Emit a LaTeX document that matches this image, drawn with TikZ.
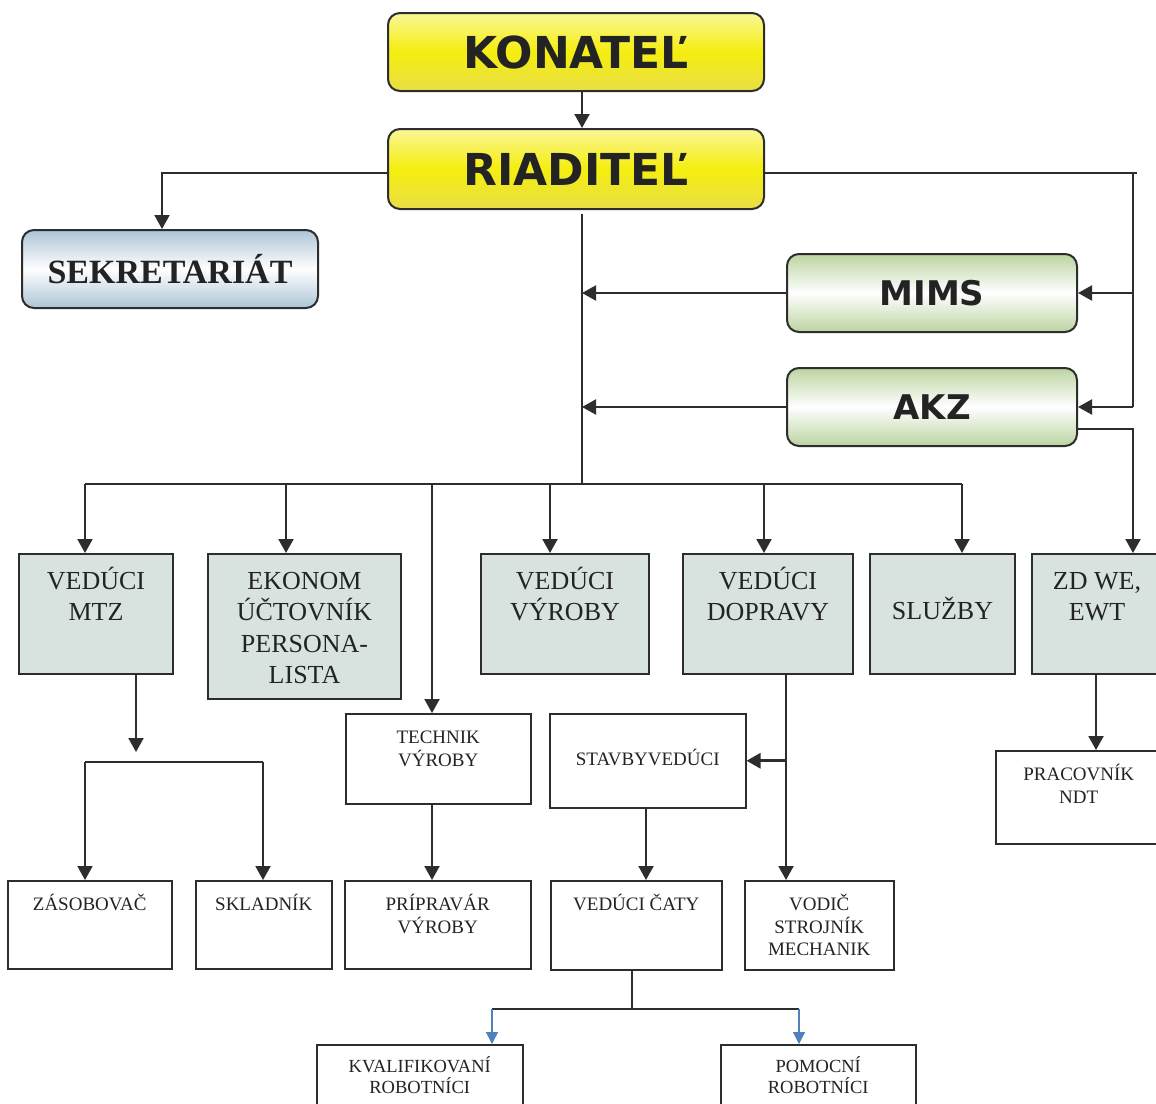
\documentclass[tikz,border=0pt]{standalone}
\usepackage{fontspec}
\setmainfont{Liberation Serif}
\newfontfamily\vfont{DejaVu Sans}
\usetikzlibrary{arrows.meta}
\definecolor{lc}{RGB}{45,45,45}
\definecolor{tc}{RGB}{35,35,35}
\definecolor{gfill}{RGB}{216,227,224}
\definecolor{ytop}{RGB}{250,246,150}
\definecolor{ymid}{RGB}{245,238,15}
\definecolor{ybot}{RGB}{232,222,70}
\definecolor{btop}{RGB}{172,196,214}
\definecolor{gtop}{RGB}{188,212,160}
\definecolor{arrblue}{RGB}{79,129,189}
\newcommand\bxt[4]{\parbox[t][#2][t]{#1}{\centering\rule{0pt}{#3}#4\par}}
\tikzset{
  ln/.style={draw=lc, line width=2pt},
  arr/.style={ln, -{Triangle[length=14pt,width=15pt]}},
  dblarr/.style={draw=lc, line width=3pt, -{Triangle[length=14pt,width=15pt]}},
  barr/.style={draw=arrblue, line width=1.3pt, -{Triangle[length=12pt,width=12pt]}},
  topbox/.style={draw=lc, line width=2pt, rounded corners=12pt, minimum width=376pt,
    top color=ytop, bottom color=ybot, middle color=ymid, text=tc,
    font=\vfont\bfseries\fontsize{44}{48}\selectfont},
  sekbox/.style={draw=lc, line width=2pt, rounded corners=12pt, minimum width=296pt, minimum height=78pt,
    top color=btop, bottom color=btop, middle color=white, text=tc,
    font=\bfseries\fontsize{34}{40}\selectfont},
  grbox/.style={draw=lc, line width=2pt, rounded corners=12pt, minimum width=290pt, minimum height=78pt,
    top color=gtop, bottom color=gtop, middle color=white, text=tc,
    font=\vfont\bfseries\fontsize{34}{38}\selectfont},
  gbox/.style={draw=lc, line width=2pt, fill=gfill, inner sep=0pt, anchor=north west,
    text=tc, font=\fontsize{26}{31.5}\selectfont},
  wbox/.style={draw=lc, line width=1.5pt, fill=white, inner sep=0pt, anchor=north west,
    text=tc, font=\fontsize{19}{22.5}\selectfont},
  wboxs/.style={wbox, font=\fontsize{18.5}{21}\selectfont},
}
\begin{document}
\begin{tikzpicture}[x=1pt,y=-1pt]
\fill[white] (0,0) rectangle (1156,1103);
\useasboundingbox (0,0) rectangle (1156,1103);

% top boxes
\node[topbox, minimum height=78pt] (kon) at (576,52) {KONATEĽ};
\node[topbox, minimum height=80pt] (rid) at (576,169) {RIADITEĽ};
\node[sekbox] (sek) at (170,269) {SEKRETARIÁT};
\node[grbox] (mims) at (932,293) {MIMS};
\node[grbox] (akz) at (932,407) {AKZ};

% second row
\node[gbox] (mtz) at (18,553) {\bxt{154pt}{120pt}{35pt}{VEDÚCI\\MTZ}};
\node[gbox] (ekon) at (207,553) {\bxt{193pt}{145pt}{35pt}{EKONOM\\ÚČTOVNÍK\\PERSONA-\\LISTA}};
\node[gbox] (vyr) at (480,553) {\bxt{168pt}{120pt}{35pt}{VEDÚCI\\VÝROBY}};
\node[gbox] (dop) at (682,553) {\bxt{170pt}{120pt}{35pt}{VEDÚCI\\DOPRAVY}};
\node[gbox] (sluz) at (869,553) {\bxt{145pt}{120pt}{65pt}{SLUŽBY}};
\node[gbox] (zd) at (1031,553) {\bxt{130pt}{120pt}{35pt}{ZD WE,\\EWT}};

% third row
\node[wbox] (tech) at (345,713) {\bxt{185pt}{90pt}{30pt}{TECHNIK\\VÝROBY}};
\node[wbox] (stav) at (549,713) {\bxt{196pt}{94pt}{52pt}{STAVBYVEDÚCI}};
\node[wbox] (prac) at (995,750) {\bxt{166pt}{93pt}{30pt}{PRACOVNÍK\\NDT}};

% fourth row
\node[wbox] (zas) at (7,880) {\bxt{164pt}{88pt}{30pt}{ZÁSOBOVAČ}};
\node[wbox] (skl) at (195,880) {\bxt{136pt}{88pt}{30pt}{SKLADNÍK}};
\node[wbox] (prip) at (344,880) {\bxt{186pt}{88pt}{30pt}{PRÍPRAVÁR\\VÝROBY}};
\node[wbox] (vcat) at (550,880) {\bxt{171pt}{89pt}{30pt}{VEDÚCI ČATY}};
\node[wbox] (vod) at (744,880) {\bxt{149pt}{89pt}{30pt}{VODIČ\\STROJNÍK\\MECHANIK}};

% fifth row
\node[wboxs] (kval) at (316,1044) {\bxt{206pt}{80pt}{28pt}{KVALIFIKOVANÍ\\ROBOTNÍCI}};
\node[wboxs] (pom) at (720,1044) {\bxt{195pt}{80pt}{28pt}{POMOCNÍ\\ROBOTNÍCI}};

% column / row coordinates
\coordinate (xc) at (582,0);
\coordinate (xsek) at (162,0);
\coordinate (xr) at (1133,0);
\coordinate (x1) at (85,0);
\coordinate (x2) at (286,0);
\coordinate (x3) at (432,0);
\coordinate (x4) at (550,0);
\coordinate (x5) at (764,0);
\coordinate (x6) at (962,0);
\coordinate (xm) at (136,0);
\coordinate (xs) at (263,0);
\coordinate (xd) at (786,0);
\coordinate (xst) at (646,0);
\coordinate (xzd) at (1096,0);
\coordinate (xv) at (632,0);
\coordinate (xk) at (492,0);
\coordinate (xp) at (799,0);
\coordinate (ry) at (0,173);
\coordinate (rend) at (1137,173);
\coordinate (c0) at (582,214);
\coordinate (bus) at (0,484);
\coordinate (ak) at (0,429);
\coordinate (mb) at (0,752);
\coordinate (sb) at (0,762);
\coordinate (bb) at (0,1009);

% connectors
\draw[arr] (xc |- kon.south) -- (xc |- rid.north);
\draw[arr] (rid.west |- ry) -- (xsek |- ry) -- (xsek |- sek.north);
\draw[ln] (rid.east |- ry) -- (rend);
\draw[ln] (xr |- ry) -- (xr |- akz.east);
\draw[arr] (xr |- mims.east) -- (mims.east);
\draw[arr] (xr |- akz.east) -- (akz.east);
\draw[ln] (c0) -- (xc |- bus);
\draw[arr] (mims.west) -- (xc |- mims.west);
\draw[arr] (akz.west) -- (xc |- akz.west);
\draw[arr] (akz.east |- ak) -- (xr |- ak) -- (xr |- zd.north);

\draw[ln] (x1 |- bus) -- (x6 |- bus);
\draw[arr] (x1 |- bus) -- (x1 |- mtz.north);
\draw[arr] (x2 |- bus) -- (x2 |- ekon.north);
\draw[arr] (x3 |- bus) -- (x3 |- tech.north);
\draw[arr] (x4 |- bus) -- (x4 |- vyr.north);
\draw[arr] (x5 |- bus) -- (x5 |- dop.north);
\draw[arr] (x6 |- bus) -- (x6 |- sluz.north);

\draw[arr] (xm |- mtz.south) -- (xm |- mb);
\draw[ln] (x1 |- sb) -- (xs |- sb);
\draw[arr] (x1 |- sb) -- (x1 |- zas.north);
\draw[arr] (xs |- sb) -- (xs |- skl.north);

\draw[arr] (x3 |- tech.south) -- (x3 |- prip.north);
\draw[arr] (xd |- dop.south) -- (xd |- vod.north);
\draw[dblarr] (xd |- stav.east) -- (stav.east);
\draw[arr] (xst |- stav.south) -- (xst |- vcat.north);
\draw[arr] (xzd |- zd.south) -- (xzd |- prac.north);

\draw[ln] (xv |- vcat.south) -- (xv |- bb);
\draw[ln] (xk |- bb) -- (xp |- bb);
\draw[barr] (xk |- bb) -- (xk |- kval.north);
\draw[barr] (xp |- bb) -- (xp |- pom.north);
\end{tikzpicture}
\end{document}
